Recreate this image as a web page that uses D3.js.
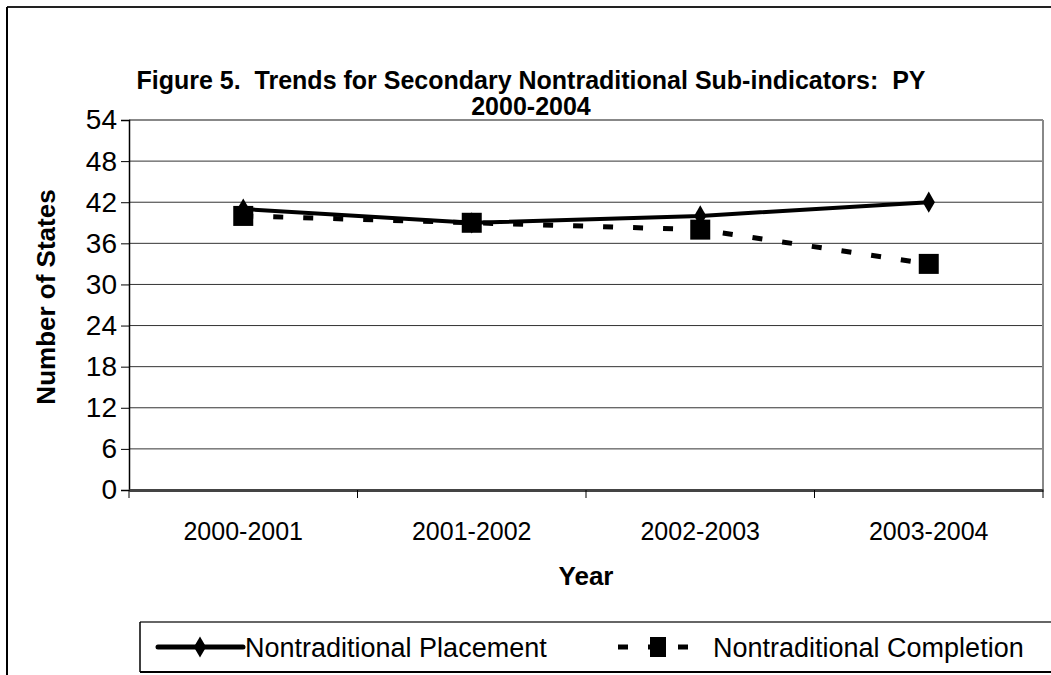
<!DOCTYPE html>
<head>
    <meta charset="utf-8">
    <title>Figure 5</title>
    <style>
        body { margin: 0; background: #fff; }
        svg text { font-family: Arial, "Liberation Sans", sans-serif; fill: #000; white-space: pre; }
    </style>
</head>
<body>
<svg width="1051" height="675"></svg>
<script src="https://d3js.org/d3.v7.min.js"></script>
<script>

    // data
    var years = ["2000-2001", "2001-2002", "2002-2003", "2003-2004"];
    var placement = [41, 39, 40, 42];
    var completion = [40, 39, 38, 33];
    var yTicks = [0, 6, 12, 18, 24, 30, 36, 42, 48, 54];
    var seriesNames = ["Nontraditional Placement", "Nontraditional Completion"];

    var svg = d3.select("svg");

    // outer chart frame (only top and left visible)
    svg.append("line").attr("x1", 7).attr("y1", 7).attr("x2", 1051).attr("y2", 7)
        .attr("stroke", "#222").attr("stroke-width", 2);
    svg.append("line").attr("x1", 7).attr("y1", 7).attr("x2", 7).attr("y2", 675)
        .attr("stroke", "#000").attr("stroke-width", 2);

    var plot = {left: 129, right: 1043, top: 120, bottom: 490};

    var x = d3.scaleBand().domain(years).range([plot.left, plot.right]);
    var y = d3.scaleLinear().domain([0, 54]).range([plot.bottom, plot.top]);

    // gridlines
    svg.append("g")
        .selectAll("line")
        .data(yTicks.filter(d => d > 0 && d < 54))
        .enter().append("line")
            .attr("x1", plot.left).attr("x2", plot.right)
            .attr("y1", d => y(d)).attr("y2", d => y(d))
            .attr("stroke", "#333").attr("stroke-width", 1);

    // plot border top / right
    svg.append("line").attr("x1", plot.left).attr("x2", plot.right)
        .attr("y1", plot.top).attr("y2", plot.top)
        .attr("stroke", "#888").attr("stroke-width", 2);
    svg.append("line").attr("x1", plot.right).attr("x2", plot.right)
        .attr("y1", plot.top).attr("y2", plot.bottom)
        .attr("stroke", "#888").attr("stroke-width", 2);

    // y axis
    var yAxis = svg.append("g")
        .attr("transform", "translate(" + plot.left + ",0)")
        .call(d3.axisLeft(y).tickValues(yTicks).tickSize(8).tickPadding(4));
    yAxis.attr("font-size", null).attr("font-family", null);
    yAxis.select(".domain").attr("stroke", "#000").attr("stroke-width", 1.5);
    yAxis.selectAll(".tick line").attr("stroke", "#000");
    yAxis.selectAll("text").style("font-size", "28px").attr("fill", "#000");

    // x axis
    var xAxis = svg.append("g")
        .attr("transform", "translate(0," + plot.bottom + ")")
        .call(d3.axisBottom(x).tickSize(0).tickPadding(31));
    xAxis.attr("font-size", null).attr("font-family", null);
    xAxis.select(".domain").attr("stroke", "#444").attr("stroke-width", 3);
    xAxis.selectAll(".tick text").attr("dy", null).attr("y", 50)
        .style("font-size", "25px").attr("fill", "#000");
    // tick marks between categories
    xAxis.append("g").selectAll("line")
        .data(years.concat(["end"]))
        .enter().append("line")
            .attr("x1", (d, i) => plot.left + i * x.bandwidth())
            .attr("x2", (d, i) => plot.left + i * x.bandwidth())
            .attr("y1", 0).attr("y2", 8)
            .attr("stroke", "#000").attr("stroke-width", 1);

    var cx = d => x(d) + x.bandwidth() / 2;
    var line = d3.line().x(d => cx(d.year)).y(d => y(d.v));

    var pData = years.map((d, i) => ({year: d, v: placement[i]}));
    var cData = years.map((d, i) => ({year: d, v: completion[i]}));

    // completion: dashed with squares
    svg.append("path").datum(cData)
        .attr("d", line).attr("fill", "none")
        .attr("stroke", "#000").attr("stroke-width", 5)
        .attr("stroke-dasharray", "10,20");

    // placement: solid with diamonds
    svg.append("path").datum(pData)
        .attr("d", line).attr("fill", "none")
        .attr("stroke", "#000").attr("stroke-width", 4);

    svg.append("g").selectAll("rect")
        .data(cData)
        .enter().append("rect")
            .attr("x", d => cx(d.year) - 10).attr("y", d => y(d.v) - 10)
            .attr("width", 20).attr("height", 20)
            .attr("fill", "#000");

    var diamond = d3.symbol().type(d3.symbolDiamond).size(130);
    svg.append("g").selectAll("path")
        .data(pData)
        .enter().append("path")
            .attr("d", diamond)
            .attr("transform", d => "translate(" + cx(d.year) + "," + y(d.v) + ")")
            .attr("fill", "#000");

    // title
    var title = svg.append("text")
        .attr("text-anchor", "middle")
        .style("font-size", "25px").style("font-weight", "bold");
    title.append("tspan").attr("x", 531).attr("y", 89)
        .text("Figure 5.  Trends for Secondary Nontraditional Sub-indicators:  PY");
    title.append("tspan").attr("x", 531).attr("y", 115)
        .text("2000-2004");

    // axis titles
    svg.append("text")
        .attr("transform", "translate(55,297) rotate(-90)")
        .attr("text-anchor", "middle")
        .style("font-size", "26px").style("font-weight", "bold")
        .text("Number of States");
    svg.append("text")
        .attr("x", 586).attr("y", 585)
        .attr("text-anchor", "middle")
        .style("font-size", "26px").style("font-weight", "bold")
        .text("Year");

    // legend box
    var lg = svg.append("g");
    lg.append("line").attr("x1", 140).attr("x2", 1051).attr("y1", 622).attr("y2", 622)
        .attr("stroke", "#666").attr("stroke-width", 2);
    lg.append("line").attr("x1", 140).attr("x2", 1051).attr("y1", 672).attr("y2", 672)
        .attr("stroke", "#000").attr("stroke-width", 2);
    lg.append("line").attr("x1", 140).attr("x2", 140).attr("y1", 622).attr("y2", 672)
        .attr("stroke", "#000").attr("stroke-width", 1.5);

    var ly = 647;
    lg.append("line").attr("x1", 158).attr("x2", 243).attr("y1", ly).attr("y2", ly)
        .attr("stroke", "#000").attr("stroke-width", 5).attr("stroke-linecap", "round");
    lg.append("path").attr("d", diamond).attr("transform", "translate(200," + ly + ")");
    lg.append("text").attr("x", 245).attr("y", ly + 10)
        .style("font-size", "27px").text(seriesNames[0]);

    lg.append("line").attr("x1", 618).attr("x2", 690).attr("y1", ly).attr("y2", ly)
        .attr("stroke", "#000").attr("stroke-width", 5)
        .attr("stroke-dasharray", "10,20");
    lg.append("rect").attr("x", 650).attr("y", ly - 10).attr("width", 16).attr("height", 20)
        .attr("fill", "#000");
    lg.append("text").attr("x", 713).attr("y", ly + 10)
        .style("font-size", "27px").text(seriesNames[1]);

</script>
</body>
